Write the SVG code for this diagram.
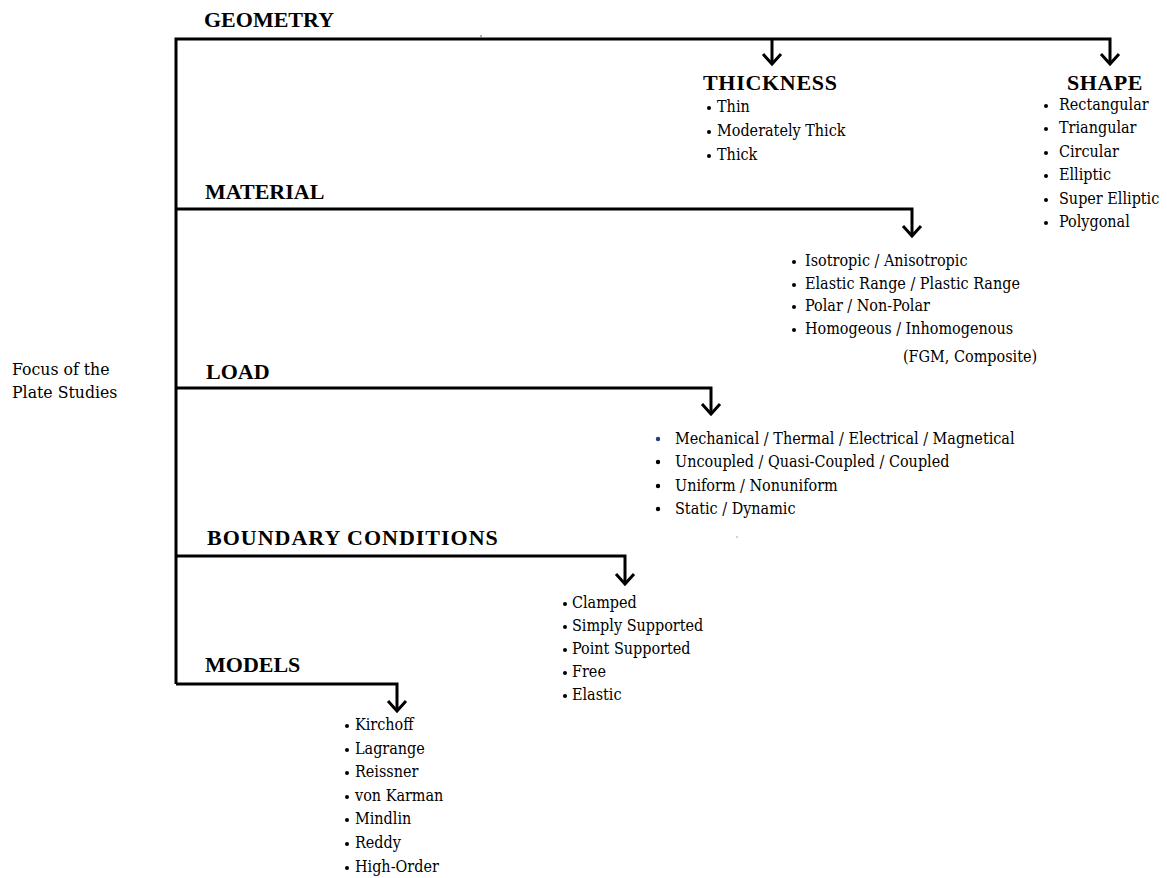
<svg xmlns="http://www.w3.org/2000/svg" width="1167" height="878" viewBox="0 0 1167 878">
<style>
.h{font-family:'Liberation Serif','Times New Roman',serif;font-weight:700;font-size:22px;fill:#000}
.t{font-family:'DejaVu Serif Condensed','DejaVu Serif',serif;font-stretch:condensed;font-size:16px;fill:#000}
.c{fill:none;stroke:#000;stroke-width:3;stroke-linejoin:miter}
.b{fill:#000}
</style>
<rect width="1167" height="878" fill="#fff"/>
<g id="connectors">
<path class="c" d="M176,684 V39 H1110 V64"/>
<path class="c" d="M772,39 V64"/>
<path class="c" d="M763,54 L772,64 L781,54"/>
<path class="c" d="M1101,54 L1110,64 L1119,54"/>
<path class="c" d="M176,209 H912 V236"/>
<path class="c" d="M903,226 L912,236 L921,226"/>
<path class="c" d="M176,388 H711 V414"/>
<path class="c" d="M702,404 L711,414 L720,404"/>
<path class="c" d="M176,556 H625 V584"/>
<path class="c" d="M616,574 L625,584 L634,574"/>
<path class="c" d="M176,684 H397 V711"/>
<path class="c" d="M388,701 L397,711 L406,701"/>
<line x1="481" y1="35" x2="481" y2="38" stroke="#666" stroke-width="1"/>
<circle cx="737" cy="537" r="0.8" fill="#8899aa"/>
</g>
<g id="root">
<text class="t" x="12" y="375" style="font-size:17.5px">Focus of the</text>
<text class="t" x="12" y="398" style="font-size:17.5px">Plate Studies</text>
</g>
<g id="geometry"><text class="h" x="204" y="27">GEOMETRY</text></g>
<g id="thickness">
<text class="h" x="703" y="90" letter-spacing="0.7">THICKNESS</text>
<circle class="b" cx="709" cy="108" r="2"/><text class="t" x="717" y="112">Thin</text>
<circle class="b" cx="709" cy="132" r="2"/><text class="t" x="717" y="136">Moderately Thick</text>
<circle class="b" cx="709" cy="156" r="2"/><text class="t" x="717" y="160">Thick</text>
</g>
<g id="shape">
<text class="h" x="1067" y="90" letter-spacing="0.5">SHAPE</text>
<circle class="b" cx="1046" cy="106" r="2"/><text class="t" x="1059" y="110">Rectangular</text>
<circle class="b" cx="1046" cy="129" r="2"/><text class="t" x="1059" y="133">Triangular</text>
<circle class="b" cx="1046" cy="153" r="2"/><text class="t" x="1059" y="157">Circular</text>
<circle class="b" cx="1046" cy="176" r="2"/><text class="t" x="1059" y="180">Elliptic</text>
<circle class="b" cx="1046" cy="200" r="2"/><text class="t" x="1059" y="204">Super Elliptic</text>
<circle class="b" cx="1046" cy="223" r="2"/><text class="t" x="1059" y="227">Polygonal</text>
</g>
<g id="material">
<text class="h" x="205" y="199">MATERIAL</text>
<circle class="b" cx="794" cy="262" r="2"/><text class="t" x="805" y="266">Isotropic / Anisotropic</text>
<circle class="b" cx="794" cy="285" r="2"/><text class="t" x="805" y="289">Elastic Range / Plastic Range</text>
<circle class="b" cx="794" cy="307" r="2"/><text class="t" x="805" y="311">Polar / Non-Polar</text>
<circle class="b" cx="794" cy="330" r="2"/><text class="t" x="805" y="334">Homogeous / Inhomogenous</text>
<text class="t" x="903" y="362">(FGM, Composite)</text>
</g>
<g id="load">
<text class="h" x="206" y="379">LOAD</text>
<circle cx="658" cy="439" r="2.2" fill="#1f3f7f"/><text class="t" x="675" y="444">Mechanical / Thermal / Electrical / Magnetical</text>
<circle class="b" cx="658" cy="462" r="2.2"/><text class="t" x="675" y="467">Uncoupled / Quasi-Coupled / Coupled</text>
<circle class="b" cx="658" cy="486" r="2.2"/><text class="t" x="675" y="491">Uniform / Nonuniform</text>
<circle class="b" cx="658" cy="509" r="2.2"/><text class="t" x="675" y="514">Static / Dynamic</text>
</g>
<g id="boundary">
<text class="h" x="207" y="545" letter-spacing="1">BOUNDARY CONDITIONS</text>
<circle class="b" cx="565" cy="604" r="2"/><text class="t" x="572" y="608">Clamped</text>
<circle class="b" cx="565" cy="627" r="2"/><text class="t" x="572" y="631">Simply Supported</text>
<circle class="b" cx="565" cy="650" r="2"/><text class="t" x="572" y="654">Point Supported</text>
<circle class="b" cx="565" cy="673" r="2"/><text class="t" x="572" y="677">Free</text>
<circle class="b" cx="565" cy="696" r="2"/><text class="t" x="572" y="700">Elastic</text>
</g>
<g id="models">
<text class="h" x="205" y="672">MODELS</text>
<circle class="b" cx="347" cy="726" r="2"/><text class="t" x="355" y="730">Kirchoff</text>
<circle class="b" cx="347" cy="750" r="2"/><text class="t" x="355" y="754">Lagrange</text>
<circle class="b" cx="347" cy="773" r="2"/><text class="t" x="355" y="777">Reissner</text>
<circle class="b" cx="347" cy="797" r="2"/><text class="t" x="355" y="801">von Karman</text>
<circle class="b" cx="347" cy="820" r="2"/><text class="t" x="355" y="824">Mindlin</text>
<circle class="b" cx="347" cy="844" r="2"/><text class="t" x="355" y="848">Reddy</text>
<circle class="b" cx="347" cy="868" r="2"/><text class="t" x="355" y="872">High-Order</text>
</g>
</svg>
